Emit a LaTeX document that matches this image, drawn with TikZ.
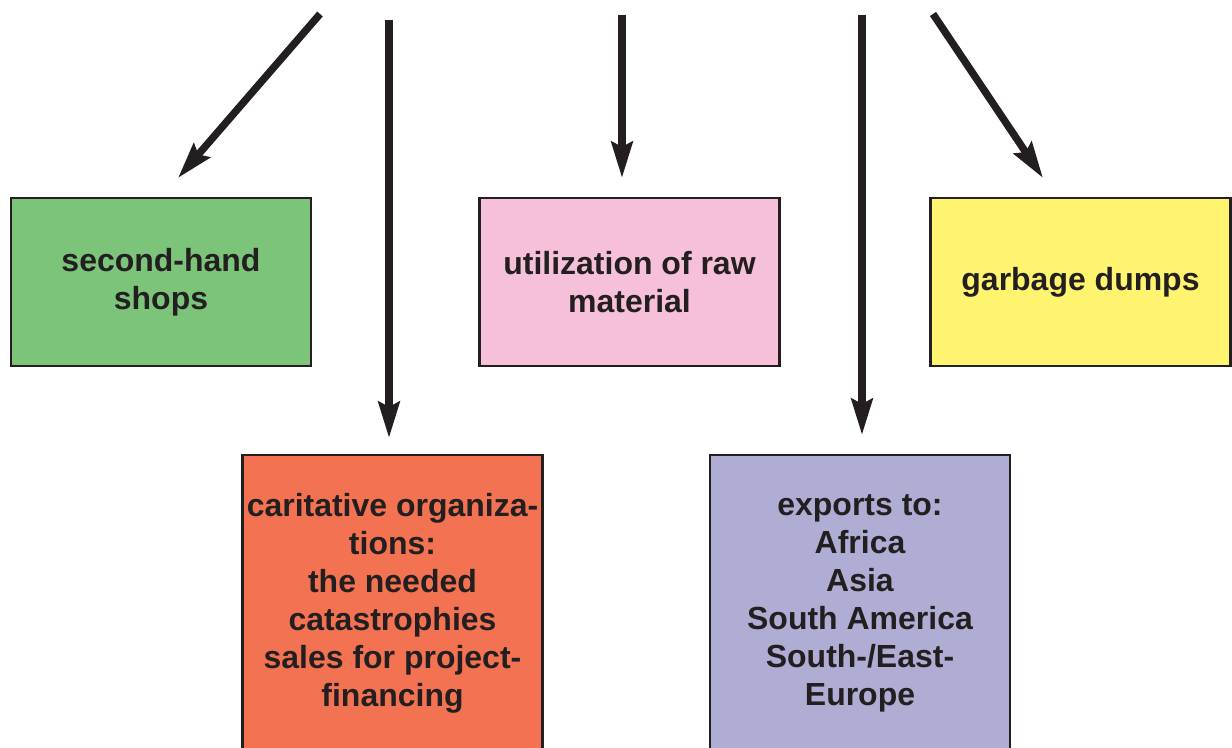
\documentclass[tikz,border=0pt]{standalone}
\usepackage{fontspec}
\setmainfont{Liberation Sans}
\usetikzlibrary{arrows.meta}
\definecolor{shopgreen}{RGB}{124, 196, 122}
\definecolor{rawpink}{RGB}{246, 192, 218}
\definecolor{dumpyellow}{RGB}{255, 244, 112}
\definecolor{charityred}{RGB}{243, 114, 82}
\definecolor{exportblue}{RGB}{176, 173, 213}
\definecolor{inkdark}{RGB}{35, 31, 32}
\tikzset{
  flowbox/.style={draw=inkdark,line width=.7pt,text=inkdark,align=center,
    font=\bfseries\fontsize{9.1}{10.8}\selectfont,minimum width=3cm,inner sep=0pt},
  flowarrow/.style={-{Stealth[length=3.6mm,width=2.1mm,inset=.5mm]},line width=2.1pt,inkdark}
}
\begin{document}
\begin{tikzpicture}
      \useasboundingbox (0,0) rectangle (12.32,7.47);
      %\draw[step=.5cm,gray,very thin] (0,0) grid (12.32,7.47);
      % upper row
      \node[flowbox,fill=shopgreen,minimum height=1.68cm] (shops) at (1.61,4.65) {second-hand\\shops};
      \node[flowbox,fill=rawpink,minimum height=1.68cm] (raw) at (6.295,4.65) {utilization of raw\\material};
      \node[flowbox,fill=dumpyellow,minimum height=1.68cm] (dumps) at (10.805,4.65) {garbage dumps};
      % lower row, cut off at the bottom
      \node[flowbox,fill=charityred,minimum height=2.96cm] (charity) at (3.925,1.44) {caritative organiza-\\tions:\\the needed\\catastrophies\\sales for project-\\financing};
      \node[flowbox,fill=exportblue,minimum height=2.96cm] (exports) at (8.6,1.44) {exports to:\\Africa\\Asia\\South America\\South-/East-\\Europe};
      % arrow ends
      \coordinate (s1) at (3.20,7.33);
      \coordinate (t1) at (1.78,5.69);
      \coordinate (s2) at (3.89,7.27);
      \coordinate (t2) at (3.89,3.09);
      \coordinate (s3) at (6.22,7.32);
      \coordinate (t3) at (6.22,5.69);
      \coordinate (s4) at (8.62,7.32);
      \coordinate (t4) at (8.62,3.12);
      \coordinate (s5) at (9.33,7.33);
      \coordinate (t5) at (10.43,5.69);
      \draw[flowarrow] (s1) -- (t1);
      \draw[flowarrow] (s2) -- (t2);
      \draw[flowarrow] (s3) -- (t3);
      \draw[flowarrow] (s4) -- (t4);
      \draw[flowarrow] (s5) -- (t5);
    \end{tikzpicture}
\end{document}
